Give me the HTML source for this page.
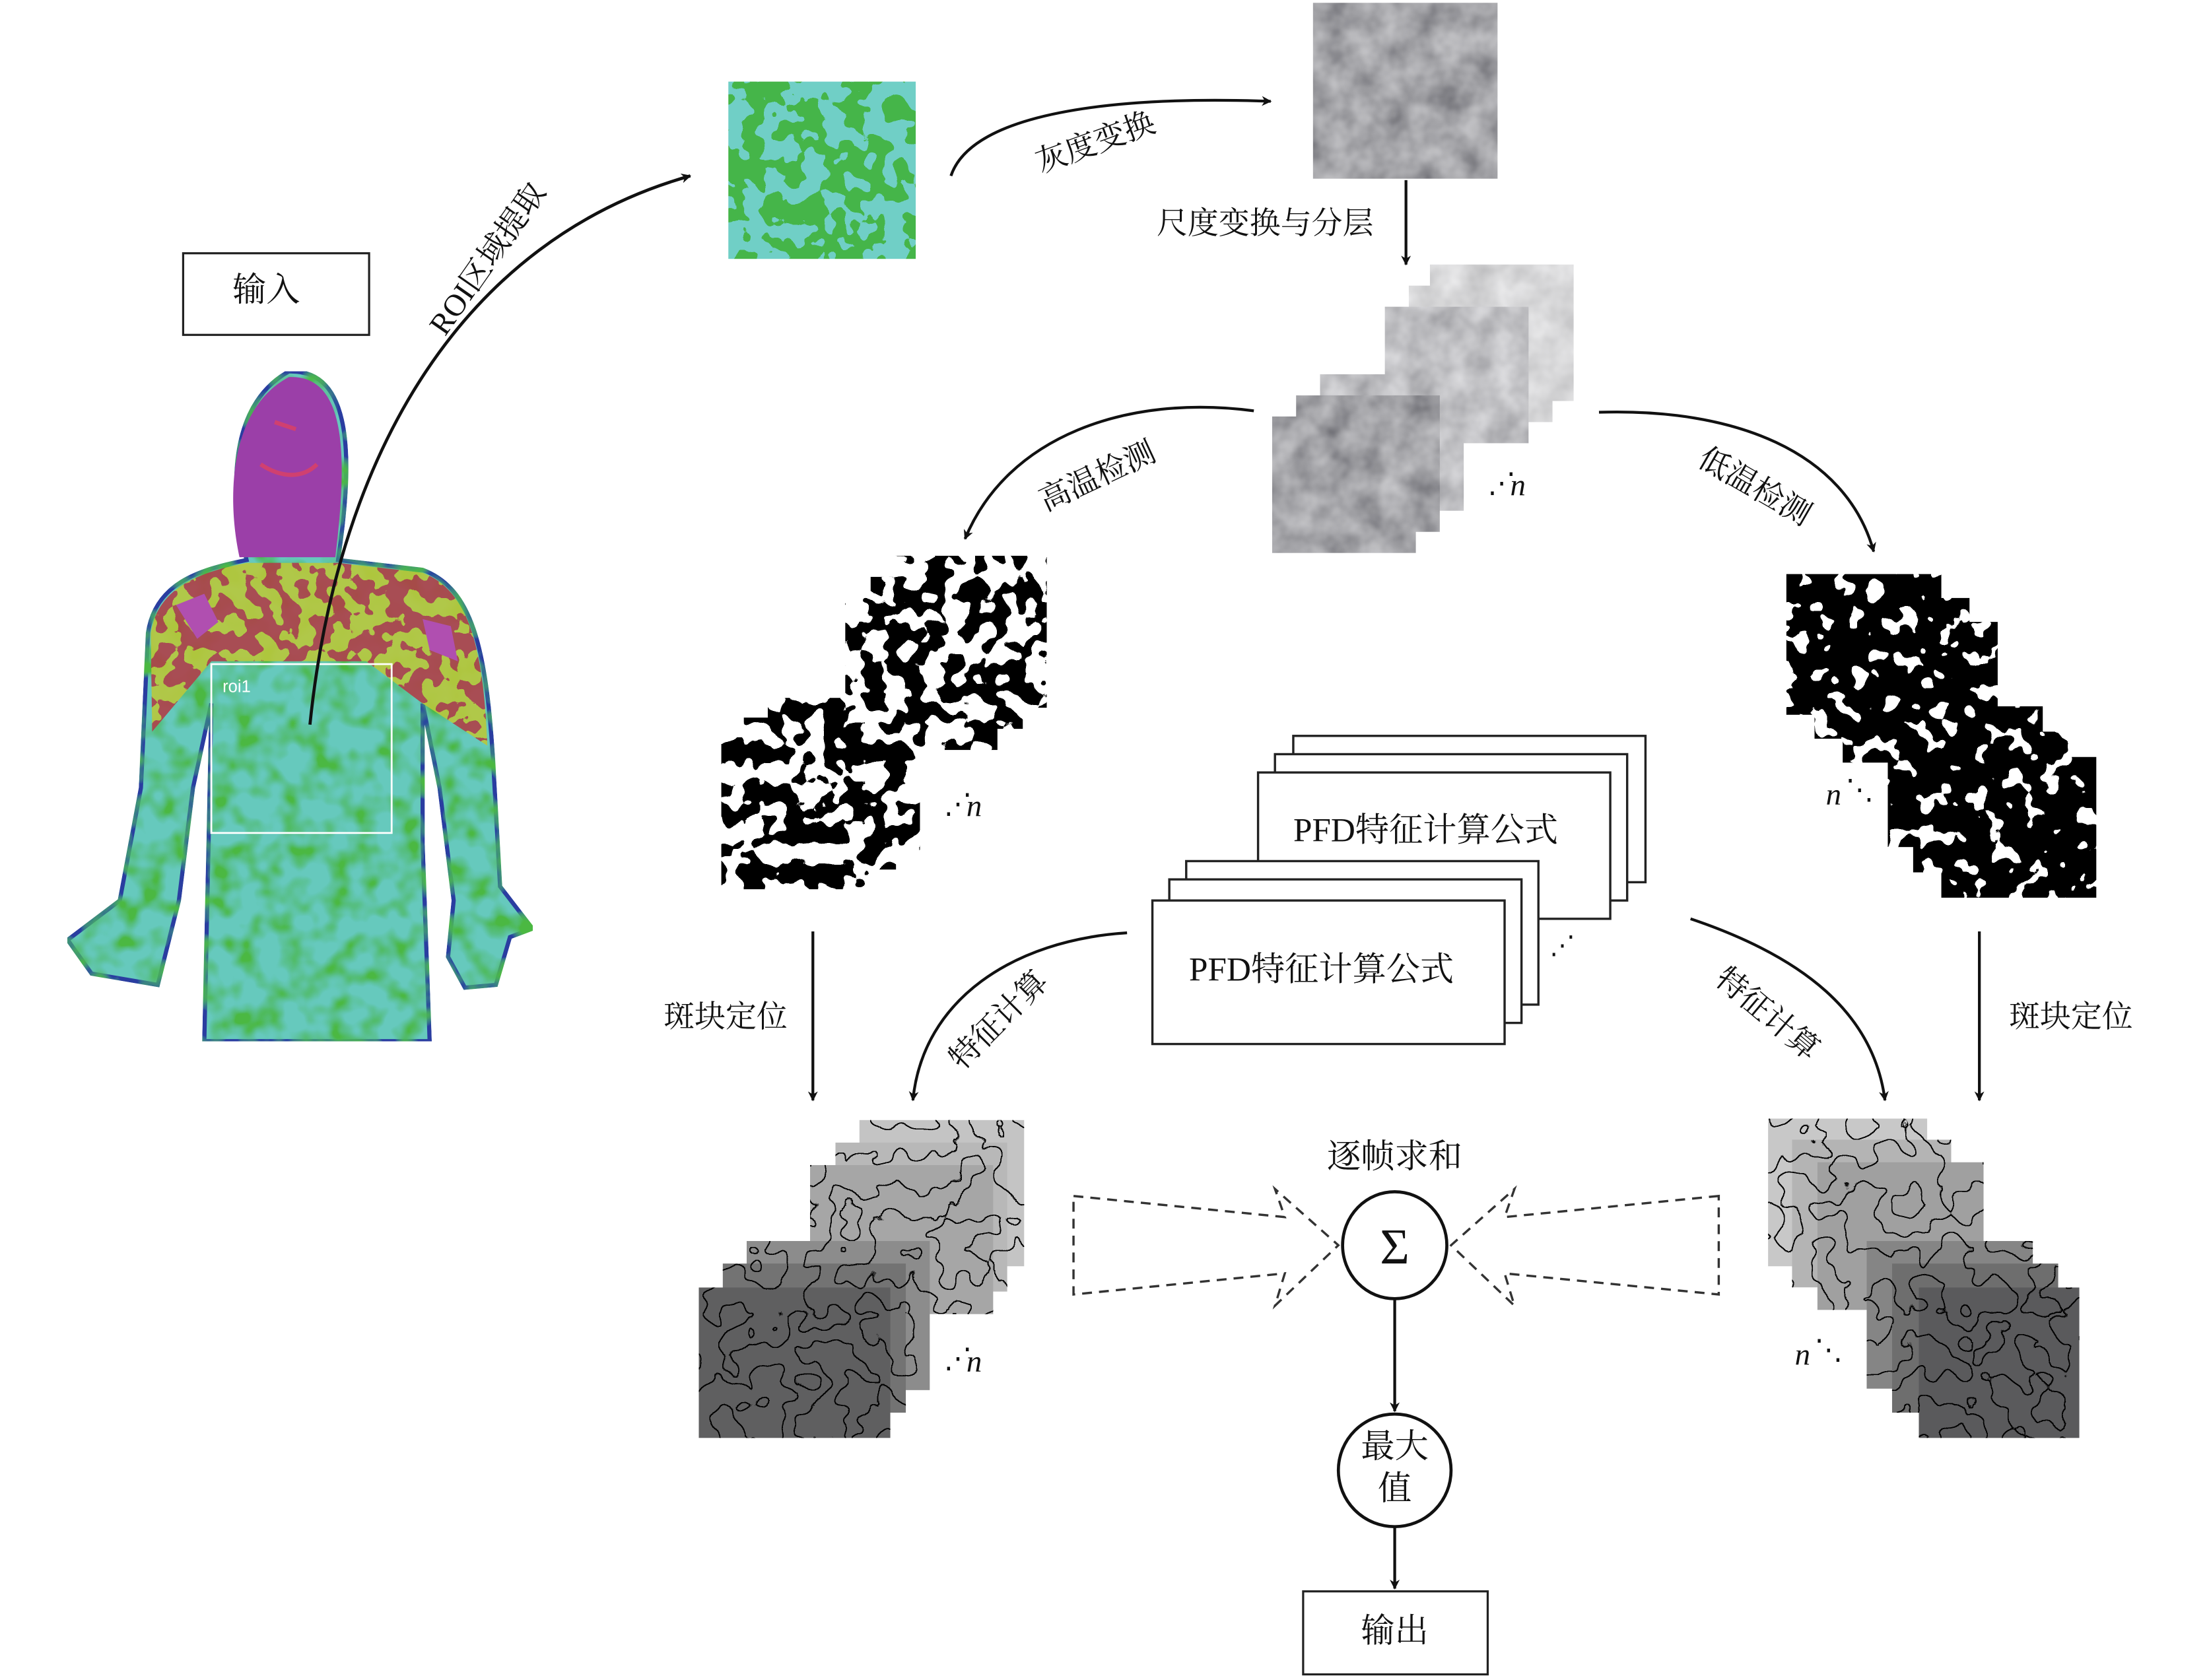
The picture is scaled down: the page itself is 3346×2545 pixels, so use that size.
<!DOCTYPE html>
<html><head><meta charset="utf-8"><style>
html,body{margin:0;padding:0;background:#fff;}
svg{display:block;}
text{font-family:"Liberation Serif","Noto Serif CJK SC","Noto Sans CJK SC",serif;fill:#111;}
</style></head><body>
<svg width="3346" height="2545" viewBox="0 0 1568 1194" preserveAspectRatio="none" xmlns="http://www.w3.org/2000/svg">
<defs>
<marker id="ah" viewBox="0 0 10 10" refX="9" refY="5" markerWidth="7" markerHeight="7" orient="auto" markerUnits="userSpaceOnUse">
<path d="M0,0 L10,5 L0,10 L3,5 z" fill="#111"/></marker>
<filter id="fGreen" x="0" y="0" width="1" height="1">
<feTurbulence type="fractalNoise" baseFrequency="0.07" numOctaves="2" seed="3" result="t"/>
<feColorMatrix in="t" type="matrix" values="0 0 0 0 0  0 0 0 0 0  0 0 0 0 0  1 0 0 0 0" result="a"/>
<feComponentTransfer in="a" result="b"><feFuncA type="discrete" tableValues="0 0 0 0 0 1 1 1 1 1"/></feComponentTransfer>
<feFlood flood-color="#45b548" result="g"/>
<feComposite in="g" in2="b" operator="in" result="gb"/>
<feFlood flood-color="#6fcfc6" result="c"/>
<feMerge result="m"><feMergeNode in="c"/><feMergeNode in="gb"/></feMerge>
<feComposite in="m" in2="SourceGraphic" operator="in"/>
</filter>
<filter id="fBody" x="0" y="0" width="1" height="1">
<feTurbulence type="fractalNoise" baseFrequency="0.06" numOctaves="2" seed="7" result="t"/>
<feColorMatrix in="t" type="matrix" values="0 0 0 0 0  0 0 0 0 0  0 0 0 0 0  3 0 0 0 -1.2" result="a"/>
<feFlood flood-color="#4cb843"/>
<feComposite in2="a" operator="in" result="gb"/>
<feMerge result="m"><feMergeNode in="SourceGraphic"/><feMergeNode in="gb"/></feMerge>
<feComposite in="m" in2="SourceGraphic" operator="in"/>
</filter>
<filter id="fShoulder" x="0" y="0" width="1" height="1">
<feTurbulence type="fractalNoise" baseFrequency="0.08" numOctaves="2" seed="12" result="t"/>
<feColorMatrix in="t" type="matrix" values="0 0 0 0 0  0 0 0 0 0  0 0 0 0 0  1 0 0 0 0" result="a"/>
<feComponentTransfer in="a" result="b"><feFuncA type="discrete" tableValues="0 0 0 0 0 1 1 1 1 1"/></feComponentTransfer>
<feFlood flood-color="#b0404a" result="r"/>
<feComposite in="r" in2="b" operator="in" result="rb"/>
<feMerge result="m"><feMergeNode in="SourceGraphic"/><feMergeNode in="rb"/></feMerge>
<feComposite in="m" in2="SourceGraphic" operator="in"/>
</filter>
<filter id="fGray" x="0" y="0" width="1" height="1">
<feTurbulence type="fractalNoise" baseFrequency="0.05" numOctaves="3" seed="2" result="t"/>
<feColorMatrix in="t" type="matrix" values="0.5 0 0 0 0.12  0.5 0 0 0 0.12  0.5 0 0 0 0.14  0 0 0 0 1" result="m"/>
<feComposite in="m" in2="SourceGraphic" operator="in"/>
</filter>
<filter id="fGrayMid" x="0" y="0" width="1" height="1">
<feTurbulence type="fractalNoise" baseFrequency="0.05" numOctaves="3" seed="4" result="t"/>
<feColorMatrix in="t" type="matrix" values="0.5 0 0 0 0.28  0.5 0 0 0 0.28  0.5 0 0 0 0.3  0 0 0 0 1" result="m"/>
<feComposite in="m" in2="SourceGraphic" operator="in"/>
</filter>
<filter id="fGrayLight" x="0" y="0" width="1" height="1">
<feTurbulence type="fractalNoise" baseFrequency="0.05" numOctaves="3" seed="5" result="t"/>
<feColorMatrix in="t" type="matrix" values="0.4 0 0 0 0.48  0.4 0 0 0 0.48  0.4 0 0 0 0.49  0 0 0 0 1" result="m"/>
<feComposite in="m" in2="SourceGraphic" operator="in"/>
</filter>
<filter id="fBinH" x="0" y="0" width="1" height="1">
<feTurbulence type="fractalNoise" baseFrequency="0.07" numOctaves="2" seed="11" result="t"/>
<feColorMatrix in="t" type="matrix" values="0 0 0 0 0  0 0 0 0 0  0 0 0 0 0  1 0 0 0 0" result="a"/>
<feComponentTransfer in="a" result="b"><feFuncA type="discrete" tableValues="0 0 0 0 0 1 1 1 1 1"/></feComponentTransfer>
<feFlood flood-color="#fff" result="w"/>
<feMerge result="m"><feMergeNode in="w"/><feMergeNode in="b"/></feMerge>
<feComposite in="m" in2="SourceGraphic" operator="in"/>
</filter>
<filter id="fBinL" x="0" y="0" width="1" height="1">
<feTurbulence type="fractalNoise" baseFrequency="0.08" numOctaves="2" seed="21" result="t"/>
<feColorMatrix in="t" type="matrix" values="0 0 0 0 0  0 0 0 0 0  0 0 0 0 0  1 0 0 0 0" result="a"/>
<feComponentTransfer in="a" result="b"><feFuncA type="discrete" tableValues="0 0 0 0 1 1 1 1 1 1"/></feComponentTransfer>
<feFlood flood-color="#fff" result="w"/>
<feMerge result="m"><feMergeNode in="w"/><feMergeNode in="b"/></feMerge>
<feComposite in="m" in2="SourceGraphic" operator="in"/>
</filter>
<filter id="fCont" x="0" y="0" width="1" height="1">
<feTurbulence type="fractalNoise" baseFrequency="0.045" numOctaves="2" seed="8" result="t"/>
<feColorMatrix in="t" type="matrix" values="0 0 0 0 0  0 0 0 0 0  0 0 0 0 0  1 0 0 0 0" result="a"/>
<feComponentTransfer in="a" result="b"><feFuncA type="discrete" tableValues="0 0 1 1"/></feComponentTransfer>
<feMorphology in="b" operator="dilate" radius="0.8" result="d"/>
<feComposite in="d" in2="b" operator="out" result="edge"/>
<feMerge result="m"><feMergeNode in="SourceGraphic"/><feMergeNode in="edge"/></feMerge>
<feComposite in="m" in2="SourceGraphic" operator="in"/>
</filter>
</defs>

<!-- input box -->
<rect x="130" y="180" width="132" height="58" fill="#fff" stroke="#222" stroke-width="1.5"/>
<text x="189" y="214" font-size="24" text-anchor="middle">输入</text>

<!-- body -->
<path d="M175,398 C165,360 158,290 205,264 C252,262 250,330 240,398 L300,405 C335,418 345,460 350,540 L355,630 L378,660 L362,666 L352,700 L330,702 L318,680 L322,640 L312,560 L300,500 L300,600 L305,740 L145,740 L148,600 L150,500 L137,560 L127,640 L112,700 L65,692 L48,668 L85,640 L100,560 L105,450 C110,415 140,405 175,398 Z" fill="#66c9bd" stroke="#2a3da0" stroke-width="3" filter="url(#fBody)"/>
<path d="M107,450 C112,418 140,407 175,400 L240,400 L300,407 C333,420 343,460 346,530 L300,500 L260,470 L150,470 L108,520 Z" fill="#b9c83e" opacity="0.9" filter="url(#fShoulder)"/>
<path d="M125,430 l20,-8 10,20 -15,12z M300,440 l20,5 5,25 -20,-8z" fill="#b04fb0"/>
<path d="M170,396 C162,360 160,292 205,268 C248,266 246,330 238,396 Z" fill="#9b3fa8"/>
<path d="M185,330 c15,10 30,10 40,0 M195,300 l15,5" stroke="#d04070" stroke-width="3" fill="none"/>
<rect x="150" y="472" width="128" height="120" fill="none" stroke="#fff" stroke-width="1.3"/>
<text x="158" y="492" font-size="12" fill="#fff" style="fill:#fff;font-family:'Liberation Sans',sans-serif">roi1</text>

<!-- ROI patch -->
<rect x="517" y="58" width="133" height="126" fill="#000" filter="url(#fGreen)"/>
<!-- gray patch -->
<rect x="932" y="2" width="131" height="125" fill="#000" filter="url(#fGray)"/>

<!-- arrows top -->
<path d="M220,515 C240,320 330,170 490,125" fill="none" stroke="#111" stroke-width="2.2" marker-end="url(#ah)"/>
<text transform="translate(352,188) rotate(-55)" font-size="22" text-anchor="middle">ROI区域提取</text>
<path d="M675,125 C690,80 790,68 902,72" fill="none" stroke="#111" stroke-width="2" marker-end="url(#ah)"/>
<text transform="translate(780,108) rotate(-20)" font-size="22" text-anchor="middle">灰度变换</text>
<line x1="998" y1="128" x2="998" y2="188" stroke="#111" stroke-width="2" marker-end="url(#ah)"/>
<text x="898" y="166" font-size="22" text-anchor="middle">尺度变换与分层</text>

<!-- gray stack -->
<rect x="1015" y="188" width="102" height="97" fill="#000" filter="url(#fGrayLight)"/>
<rect x="1000" y="203" width="102" height="97" fill="#000" filter="url(#fGrayLight)"/>
<rect x="983" y="218" width="102" height="97" fill="#000" filter="url(#fGrayMid)"/>
<rect x="937" y="266" width="102" height="97" fill="#000" filter="url(#fGrayMid)"/>
<rect x="920" y="281" width="102" height="97" fill="#000" filter="url(#fGray)"/>
<rect x="903" y="296" width="102" height="97" fill="#000" filter="url(#fGray)"/>
<text x="1056" y="350" font-size="20">⋰</text><text x="1072" y="352" font-size="22" font-style="italic">n</text>

<!-- detection arrows -->
<path d="M890,292 C800,280 715,310 685,383" fill="none" stroke="#111" stroke-width="2" marker-end="url(#ah)"/>
<text transform="translate(782,345) rotate(-25)" font-size="22" text-anchor="middle">高温检测</text>
<path d="M1135,293 C1230,290 1310,320 1330,392" fill="none" stroke="#111" stroke-width="2" marker-end="url(#ah)"/>
<text transform="translate(1242,352) rotate(30)" font-size="22" text-anchor="middle">低温检测</text>

<!-- high temp stack -->
<rect x="635" y="395" width="108" height="108" fill="#000" filter="url(#fBinH)"/>
<rect x="618" y="410" width="108" height="108" fill="#000" filter="url(#fBinH)"/>
<rect x="600" y="425" width="108" height="108" fill="#000" filter="url(#fBinH)"/>
<rect x="545" y="496" width="108" height="108" fill="#000" filter="url(#fBinH)"/>
<rect x="528" y="510" width="108" height="108" fill="#000" filter="url(#fBinH)"/>
<rect x="512" y="524" width="108" height="108" fill="#000" filter="url(#fBinH)"/>
<text x="670" y="578" font-size="20">⋰</text><text x="686" y="580" font-size="22" font-style="italic">n</text>

<!-- low temp stack -->
<rect x="1268" y="408" width="110" height="100" fill="#000" filter="url(#fBinL)"/>
<rect x="1288" y="425" width="110" height="100" fill="#000" filter="url(#fBinL)"/>
<rect x="1308" y="442" width="110" height="100" fill="#000" filter="url(#fBinL)"/>
<rect x="1340" y="502" width="110" height="100" fill="#000" filter="url(#fBinL)"/>
<rect x="1358" y="520" width="110" height="100" fill="#000" filter="url(#fBinL)"/>
<rect x="1378" y="538" width="110" height="100" fill="#000" filter="url(#fBinL)"/>
<text x="1296" y="572" font-size="22" font-style="italic">n</text><text x="1310" y="568" font-size="20">⋱</text>

<!-- PFD boxes -->
<g stroke="#222" stroke-width="1.6" fill="#fff">
<rect x="918" y="523" width="250" height="104"/>
<rect x="905" y="536" width="250" height="104"/>
<rect x="893" y="549" width="250" height="104"/>
<rect x="842" y="612" width="250" height="102"/>
<rect x="830" y="625" width="250" height="102"/>
<rect x="818" y="640" width="250" height="102"/>
</g>
<text x="1012" y="598" font-size="24" text-anchor="middle">PFD特征计算公式</text>
<text x="938" y="697" font-size="24" text-anchor="middle">PFD特征计算公式</text>
<text x="1100" y="678" font-size="18">⋰</text>

<!-- vertical & feature arrows -->
<line x1="577" y1="662" x2="577" y2="782" stroke="#111" stroke-width="2" marker-end="url(#ah)"/>
<text x="515" y="730" font-size="22" text-anchor="middle">斑块定位</text>
<line x1="1405" y1="662" x2="1405" y2="782" stroke="#111" stroke-width="2" marker-end="url(#ah)"/>
<text x="1470" y="730" font-size="22" text-anchor="middle">斑块定位</text>
<path d="M800,663 C720,668 655,710 648,782" fill="none" stroke="#111" stroke-width="2" marker-end="url(#ah)"/>
<text transform="translate(714,730) rotate(-45)" font-size="22" text-anchor="middle">特征计算</text>
<path d="M1200,653 C1280,680 1330,720 1338,782" fill="none" stroke="#111" stroke-width="2" marker-end="url(#ah)"/>
<text transform="translate(1250,726) rotate(40)" font-size="22" text-anchor="middle">特征计算</text>

<!-- bottom-left contour stack -->
<rect x="610" y="796" width="117" height="104" fill="#c4c4c4" filter="url(#fCont)"/>
<rect x="593" y="812" width="122" height="106" fill="#b8b8b8" filter="url(#fCont)"/>
<rect x="575" y="828" width="130" height="106" fill="#a6a6a6" filter="url(#fCont)"/>
<rect x="530" y="882" width="130" height="106" fill="#8c8c8c" filter="url(#fCont)"/>
<rect x="513" y="898" width="130" height="106" fill="#737373" filter="url(#fCont)"/>
<rect x="496" y="915" width="136" height="107" fill="#5e5e60" filter="url(#fCont)"/>
<text x="670" y="972" font-size="20">⋰</text><text x="686" y="975" font-size="22" font-style="italic">n</text>

<!-- bottom-right contour stack -->
<rect x="1255" y="795" width="113" height="105" fill="#c8c8c8" filter="url(#fCont)"/>
<rect x="1272" y="810" width="113" height="105" fill="#b4b4b4" filter="url(#fCont)"/>
<rect x="1290" y="826" width="118" height="105" fill="#a0a0a0" filter="url(#fCont)"/>
<rect x="1325" y="882" width="118" height="105" fill="#858585" filter="url(#fCont)"/>
<rect x="1343" y="898" width="118" height="106" fill="#6e6e6e" filter="url(#fCont)"/>
<rect x="1362" y="915" width="114" height="107" fill="#5a5a5c" filter="url(#fCont)"/>
<text x="1274" y="970" font-size="22" font-style="italic">n</text><text x="1288" y="966" font-size="20">⋱</text>

<!-- dashed arrows -->
<g fill="none" stroke="#333" stroke-width="1.6" stroke-dasharray="7,5">
<path d="M762,850 L912,865 L905,845 L950,885 L905,928 L912,905 L762,920 Z"/>
<path d="M1220,850 L1068,865 L1075,845 L1030,885 L1075,928 L1068,905 L1220,920 Z"/>
</g>

<!-- sigma -->
<text x="990" y="830" font-size="24" text-anchor="middle">逐帧求和</text>
<ellipse cx="990" cy="885" rx="37" ry="38" fill="#fff" stroke="#111" stroke-width="2.2"/>
<text x="990" y="898" font-size="36" text-anchor="middle">Σ</text>
<line x1="990" y1="923" x2="990" y2="1003" stroke="#111" stroke-width="2" marker-end="url(#ah)"/>
<ellipse cx="990" cy="1045" rx="40" ry="40" fill="#fff" stroke="#111" stroke-width="2.2"/>
<text x="990" y="1036" font-size="24" text-anchor="middle">最大</text>
<text x="990" y="1066" font-size="24" text-anchor="middle">值</text>
<line x1="990" y1="1085" x2="990" y2="1129" stroke="#111" stroke-width="2" marker-end="url(#ah)"/>
<rect x="925" y="1131" width="131" height="59" fill="#fff" stroke="#222" stroke-width="1.5"/>
<text x="990" y="1167" font-size="24" text-anchor="middle">输出</text>
</svg>
</body></html>
